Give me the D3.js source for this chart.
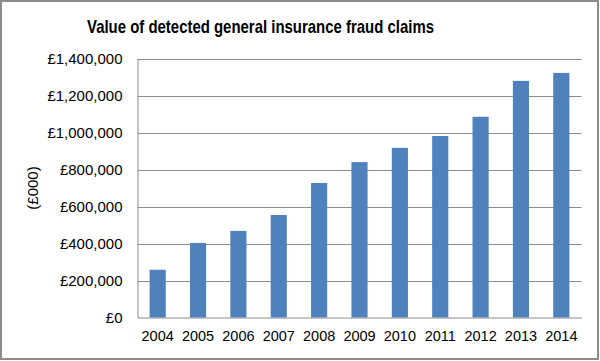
<!DOCTYPE html>
<html><head><meta charset="utf-8">
<script src="https://cdn.jsdelivr.net/npm/d3@7"></script>
<style>body{margin:0;background:#fff}svg{display:block}</style>
</head><body>
<svg id="c" width="600" height="361"></svg>
<script>
const years = ["2004","2005","2006","2007","2008","2009","2010","2011","2012","2013","2014"];
const values = [258000, 403000, 468000, 554000, 727000, 840000, 917000, 981000, 1085000, 1279000, 1322000];
const yTicks = [0, 200000, 400000, 600000, 800000, 1000000, 1200000, 1400000];
const title = "Value of detected general insurance fraud claims";
const yTitle = "(£000)";

const svg = d3.select("#c");
const font = "'Liberation Sans', Arial, sans-serif";
const m = {left: 137.5, right: 581.5, top: 58.5, bottom: 317.5};

svg.append("rect").attr("x",1).attr("y",1).attr("width",597).attr("height",358)
  .attr("fill","#fff").attr("stroke","#8c8c8c").attr("stroke-width",2);

const x = d3.scaleBand().domain(years).range([m.left, m.right]).paddingInner(0.6).paddingOuter(0.3);
const y = d3.scaleLinear().domain([0, 1400000]).range([m.bottom, m.top]);

// gridlines
svg.append("g").selectAll("line").data(yTicks.filter(d=>d>0)).join("line")
  .attr("x1", m.left).attr("x2", m.right)
  .attr("y1", d=>Math.round(y(d))+0.5).attr("y2", d=>Math.round(y(d))+0.5)
  .attr("stroke","#8c8c8c").attr("stroke-width",1);

// bars
svg.append("g").selectAll("rect").data(values).join("rect")
  .attr("x",(d,i)=>x(years[i])).attr("width",x.bandwidth())
  .attr("y",d=>y(d)).attr("height",d=>y(0)-y(d))
  .attr("fill","#4f81bd");

// y axis
const yAxis = d3.axisLeft(y).tickValues(yTicks).tickSize(0).tickPadding(15)
  .tickFormat(d=>"£"+d3.format(",")(d));
const gy = svg.append("g").attr("transform",`translate(${m.left},0)`).call(yAxis);
gy.select(".domain").attr("stroke","#8c8c8c");
gy.selectAll("text").attr("font-family",font).attr("font-size",15).attr("fill","#000");

// x axis
const xAxis = d3.axisBottom(x).tickSize(0).tickPadding(13);
const gx = svg.append("g").attr("transform",`translate(0,${m.bottom})`).call(xAxis);
gx.select(".domain").attr("stroke","#8c8c8c");
gx.selectAll("text").attr("font-family",font).attr("font-size",14.5).attr("fill","#000");

// title
svg.append("text").attr("x",260.5).attr("y",33).attr("text-anchor","middle")
  .attr("font-family",font).attr("font-weight","bold").attr("font-size",19)
  .attr("textLength",347).attr("lengthAdjust","spacingAndGlyphs")
  .attr("fill","#000").text(title);

// y title
svg.append("text").attr("transform","translate(38,188) rotate(-90)")
  .attr("text-anchor","middle").attr("font-family",font).attr("font-size",15)
  .attr("fill","#000").text(yTitle);
</script>
</body></html>
